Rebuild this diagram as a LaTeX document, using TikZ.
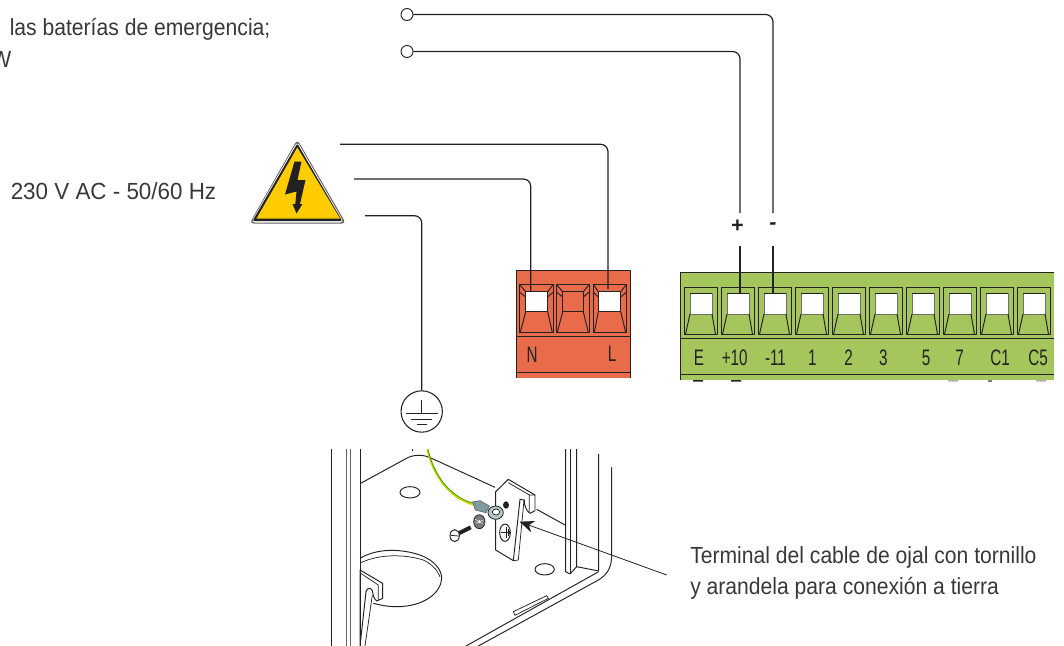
\documentclass[tikz,border=0pt]{standalone}
\usepackage{fontspec}
\setmainfont{Liberation Sans}
\newfontfamily\narrowf[FakeStretch=0.68]{Liberation Sans}
\newfontfamily\labelf[FakeStretch=0.905]{Liberation Sans}
\newfontfamily\labelw[FakeStretch=0.96]{Liberation Sans}
\usetikzlibrary{arrows.meta}
\definecolor{redblock}{HTML}{E96C4A}
\definecolor{greenblock}{HTML}{A4C65C}
\definecolor{warn}{HTML}{FFCC00}
\definecolor{ink}{HTML}{222222}
\definecolor{lug}{HTML}{7E9CA0}
\tikzset{
  every node/.style={inner sep=0pt},
  wire/.style={draw=ink,line width=0.9pt,rounded corners=5.5pt},
  body/.style={draw=ink,line width=0.72pt,line join=round},
  thin body/.style={draw=ink,line width=0.55pt},
  label/.style={font=\labelf\fontsize{17.5}{20}\selectfont,anchor=base west,text=ink!90},
  term/.style={font=\narrowf\fontsize{16.8}{18}\selectfont,anchor=base,text=ink},
  sign/.style={font=\bfseries\itshape\fontsize{16}{18}\selectfont,text=ink},
  ring/.style={circle,draw=ink,line width=0.7pt,fill=white,minimum size=9pt},
}
\begin{document}
\begin{tikzpicture}[x=0.75pt,y=-0.75pt]
\useasboundingbox (0,0) rectangle (1064,646);
% texts
\node[label] (t1) at (9.5,35) {las baterías de emergencia;};
\node[label] (t2) at (-9,67) {W};
\node[label,font=\labelw\fontsize{17.5}{20}\selectfont] (t3) at (10.5,199) {230 V AC - 50/60 Hz};
\node[label] (t4) at (690,563) {Terminal del cable de ojal con tornillo};
\node[label] (t5) at (690,594.5) {y arandela para conexión a tierra};
% warning triangle
\fill[ink!70,line join=round,rounded corners=3pt] (297.3,139.5) -- (346,223.5) -- (249.5,223.5) -- cycle;
\fill[white,rounded corners=3pt] (297.3,141.5) -- (344,222.5) -- (251,222.5) -- cycle;
\fill[ink,rounded corners=1.5pt] (297.3,143.5) -- (342.3,221) -- (252.5,221) -- cycle;
\fill[warn] (297.3,147.5) -- (340,218.5) -- (256.5,218.5) -- cycle;
\fill[ink] (294.5,161.5) -- (301.5,161.5) -- (297.5,180) -- (305.5,180) -- (300,204) -- (302.5,204) -- (296.5,213.5) -- (292.5,204) -- (295.3,204) -- (296.5,191.5) -- (285,194.5) -- cycle;
% red block
\fill[redblock] (516,270) rectangle (630,378);
\draw[body] (516,378) -- (516,270) -- (630,270) -- (630,378);
\draw[body] (516,336.7) -- (630,336.7) (516,372) -- (630,372);
\foreach \n/\a/\b/\c/\d/\f in {rn/519.3/553.3/525.7/547.7/white, rm/556.3/589.3/562.7/583.3/redblock, rl/593.3/626.7/598.3/620.7/white}{
  \draw[body,fill=redblock] (\a,284.3) rectangle (\b,332.3);
  \draw[body,fill=\f] (\c,291.7) rectangle (\d,311.7);
  \draw[body] (\a,284.3) -- (\c,291.7) (\b,284.3) -- (\d,291.7) (\a,292) -- (\c,297) (\b,292) -- (\d,297)
     (\c,311.7) -- (\a+1,332.3) (\d,311.7) -- (\b-1,332.3);
  \coordinate (\n) at ({(\c+\d)/2},291.7);
}
\node[term] (lbN) at (532,362.5) {N};
\node[term] (lbL) at (612,361.5) {L};
% green block
\fill[greenblock] (680.7,272.3) rectangle (1054,380);
\draw[body] (680.7,380) -- (680.7,272.3) -- (1054,272.3);
\draw[body] (680.7,338.3) -- (1054,338.3) (680.7,374.3) -- (1054,374.3);
\foreach \i in {0,...,9}{
  \pgfmathsetmacro\xa{684+37*\i}
  \draw[body] (\xa,287) rectangle (\xa+33,334.3);
  \draw[draw=ink!65,line width=0.7pt,fill=white] (\xa+6,293.3) rectangle (\xa+28,314);
  \draw[body] (\xa+6,293.3) -- (\xa+28,293.3);
  \draw[body] (\xa+6,314) -- (\xa+1.5,334.3) (\xa+28,314) -- (\xa+31.5,334.3);
  \coordinate (g\i) at (\xa+17,293.3);
}
\foreach \n/\x/\s in {a/699/E,b/734.7/+10,c/775.5/-11,d/812.3/1,e/848.7/2,f/883.4/3,g/926/5,h/959.6/7,i/1000/C1,j/1038/C5}{
  \node[term] (lb\n) at (\x,365) {\s};
}
% small marks under the green block
\fill[ink] (693,380) rectangle (703,381.5) (731,380) rectangle (741,381.5);
\fill[ink!35] (948,380) rectangle (958,381.5) (1036,380) rectangle (1046,381.5);
\fill[ink!60] (988,380) rectangle (992,381.5);
% switch circles and upper wires
\node[ring] (c1) at (407,14.5) {};
\node[ring] (c2) at (407,51.5) {};
\node[sign] (plus) at (737,226.5) {+};
\node[sign] (minus) at (773,226.5) {-};
\coordinate (p1) at (740,213);
\coordinate (m1) at (773,213);
\coordinate (p2) at (740,246);
\coordinate (m2) at (773,246);
\draw[wire] (c1.east) -| (m1);
\draw[wire] (c2.east) -| (p1);
\draw[wire] (p2) -- (p2 |- g1);
\draw[wire] (m2) -- (m2 |- g2);
% mains wires
\coordinate (w1) at (340,144.3);
\coordinate (w2) at (354,179);
\coordinate (w3) at (365,215.7);
\draw[wire] (w1) -| (608,289);
\draw[wire] (w2) -| (530.7,291.7);
% earth symbol
\node[circle,draw=ink,line width=0.8pt,minimum size=31pt] (earth) at (421.7,411.5) {};
\draw[wire] (w3) -| (earth.north);
\draw[line width=0.7pt,draw=ink] (421.7,400) -- (421.7,413.5) (405.5,413.5) -- (437.5,413.5) (410.7,419.3) -- (431.7,419.3) (416.7,424.3) -- (426.7,424.3);
% big hole and left bracket
\begin{scope}[shift={(340,540)},x=0.25pt,y=-0.25pt]
  \draw[body] (60,55) .. controls (110,25) and (180,25) .. (240,45) .. controls (285,62) and (305,90) .. (305,115) .. controls (303,160) and (250,200) .. (170,200) .. controls (140,200) and (120,195) .. (100,190);
  \draw[thin body] (62,68) .. controls (120,42) and (190,42) .. (250,60) .. controls (275,72) and (292,90) .. (300,110);
  \draw[body,fill=white] (60,90) -- (128,130) -- (128,175) -- (110,183) .. controls (100,175) and (100,165) .. (97,152) .. controls (92,142) and (82,142) .. (78,155) -- (60,318) -- (60,90);
  \draw[thin body] (62,100) -- (115,135) -- (115,180) (97,165) -- (75,318);
\end{scope}
% enclosure
\begin{scope}[shift={(320,380)},x=0.25pt,y=-0.25pt]
  \draw[body] (33,207) -- (33,798);
  \draw[draw=ink!70,line width=0.6pt] (78,207) -- (78,798) (92,207) -- (92,798);
  \draw[body] (122,207) -- (122,798);
  \draw[body] (737,207) -- (737,575) -- (750,582) -- (770,560) -- (770,207);
  \draw[body] (750,207) -- (750,582);
  \draw[body] (770,560) -- (836,573) (836,222) -- (836,573);
  \draw[body] (875,262) -- (875,525) .. controls (875,565) and (860,585) .. (835,600) -- (475,798);
  \draw[body] (836,575) -- (438,798);
  % floor contour
  \draw[body] (122,310) -- (265,232) .. controls (290,222) and (315,225) .. (335,235) -- (525,322);
  \draw[body] (650,388) -- (737,436);
  \draw[body] (276,207) -- (276,214);
  % holes
  \draw[body] (270,337) ellipse (30 and 17);
  \draw[body] (674,568) ellipse (29 and 17);
  % slot
  \draw[thin body] (580,695) -- (680,647) -- (685,655) -- (585,706) -- cycle;
\end{scope}
\begin{scope}[shift={(400,440)},x=0.25pt,y=-0.25pt]
  % plate
  \draw[body,fill=white] (287,155) -- (325,118) -- (405,165) -- (405,212) -- (390,220) .. controls (378,212) and (372,195) .. (373,180) -- (360,178) -- (340,362) -- (287,330) -- cycle;
  \draw[thin body] (325,128) -- (388,165) -- (388,215) (388,165) -- (405,165) (372,180) -- (355,360) -- (340,362);
  \draw[body] (315,278) ellipse (16 and 26);
  \draw[thin body] (302,278) -- (330,278) (318,262) -- (318,295) (324,268) -- (324,288) (329,273) -- (329,283);
  \fill[ink] (318,195) ellipse (9 and 11);
  % earth wire
  \draw[draw=warn!80!green,line width=1.3pt] (82,28) .. controls (100,110) and (150,175) .. (220,194);
  \draw[draw=green!55!black!70!warn,line width=0.7pt] (84,28) .. controls (102,108) and (152,172) .. (221,190);
  % lug
  \draw[draw=ink!70,line width=0.5pt,fill=lug] (218,186) -- (240,182) -- (268,198) -- (258,218) -- (226,210) -- cycle;
  \draw[draw=ink,line width=0.6pt,fill=lug!60] (287,218) ellipse (23 and 20);
  \fill[white] (288,216) ellipse (11 and 9);
  \draw[thin body] (288,216) ellipse (11 and 9);
  % washer
  \draw[thin body,fill=ink!60] (238,245) ellipse (17 and 21);
  \fill[white] (238,245) ellipse (4 and 5);
  \draw[white,line width=0.3pt] (226,238) -- (250,252) (226,250) -- (250,240);
  % screw
  \draw[line width=3pt,draw=ink] (176,280) -- (212,262);
  \draw[body,fill=white] (164,287) ellipse (14 and 18);
  \draw[thin body] (153,286) -- (176,288);
\end{scope}
% pointer arrow
\coordinate (ptrA) at (666.7,575);
\coordinate (ptrB) at (519.5,521.7);
\draw[draw=ink,line width=0.6pt,-{Stealth[length=11pt,width=9pt]}] (ptrA) -- (ptrB);
\end{tikzpicture}
\end{document}
